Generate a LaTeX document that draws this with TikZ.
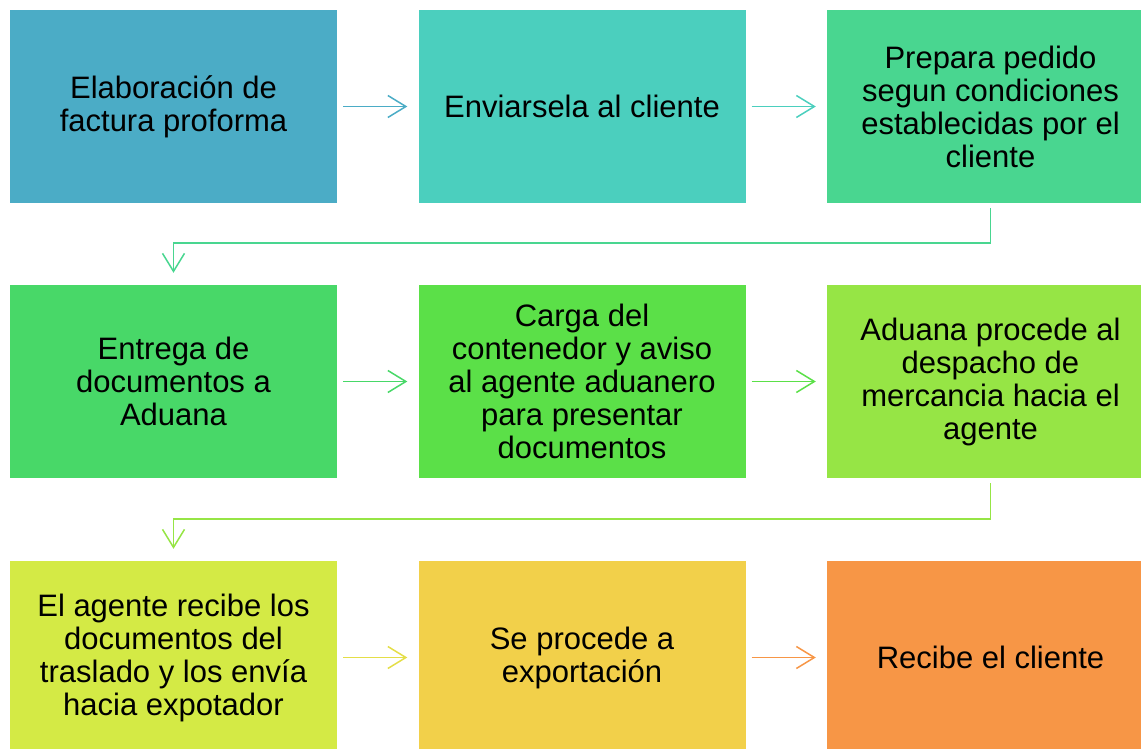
\documentclass[tikz,border=0pt]{standalone}
\usepackage{fontspec}
\setmainfont{Liberation Sans}
\usetikzlibrary{arrows.meta}
\definecolor{c1}{RGB}{75,172,198}
\definecolor{c2}{RGB}{75,207,190}
\definecolor{c3}{RGB}{73,214,144}
\definecolor{c4}{RGB}{72,216,104}
\definecolor{c5}{RGB}{91,224,72}
\definecolor{c6}{RGB}{150,229,69}
\definecolor{c7}{RGB}{212,234,69}
\definecolor{c7a}{RGB}{228,222,72}
\definecolor{c8}{RGB}{242,208,74}
\definecolor{c9}{RGB}{247,150,70}
\tikzset{
  box/.style={minimum width=327pt, minimum height=193pt, inner sep=0pt, align=center,
    font=\fontsize{31pt}{33pt}\selectfont, text=black},
  link/.style={line width=1.5pt, -{Straight Barb[length=18pt,width=22pt,line width=1.5pt]},
    shorten <=6pt, shorten >=11pt},
  elbow/.style={line width=1.5pt, -{Straight Barb[length=18pt,width=22pt,line width=1.5pt]},
    shorten <=5pt, shorten >=12pt}
}
\begin{document}
\begin{tikzpicture}[x=1pt,y=-1pt]
\useasboundingbox (0,0) rectangle (1141,749);
\clip (0,0) rectangle (1141,749);
\node[box, fill=c1] (b1) at (173.5,106.5) {Elaboración de\\factura proforma};
\node[box, fill=c2] (b2) at (582,106.5) {Enviarsela al cliente};
\node[box, fill=c3] (b3) at (990.5,106.5) {Prepara pedido\\segun condiciones\\establecidas por el\\cliente};
\node[box, fill=c4] (b4) at (173.5,381.5) {Entrega de\\documentos a\\Aduana};
\node[box, fill=c5] (b5) at (582,381.5) {Carga del\\contenedor y aviso\\al agente aduanero\\para presentar\\documentos};
\node[box, fill=c6] (b6) at (990.5,381.5) {Aduana procede al\\despacho de\\mercancia hacia el\\agente};
\node[box, fill=c7] (b7) at (173.5,657.5) {El agente recibe los\\documentos del\\traslado y los envía\\hacia expotador};
\node[box, fill=c8] (b8) at (582,657.5) {Se procede a\\exportación};
\node[box, fill=c9] (b9) at (990.5,657.5) {Recibe el cliente};
\draw[link, c1] (b1) -- (b2);
\draw[link, c2] (b2) -- (b3);
\draw[elbow, c3] (b3.south) -- ++(0,40) -| (b4.north);
\draw[link, c4] (b4) -- (b5);
\draw[link, c5] (b5) -- (b6);
\draw[elbow, c6] (b6.south) -- ++(0,41) -| (b7.north);
\draw[link, c7a] (b7) -- (b8);
\draw[link, c9] (b8) -- (b9);
\end{tikzpicture}
\end{document}
